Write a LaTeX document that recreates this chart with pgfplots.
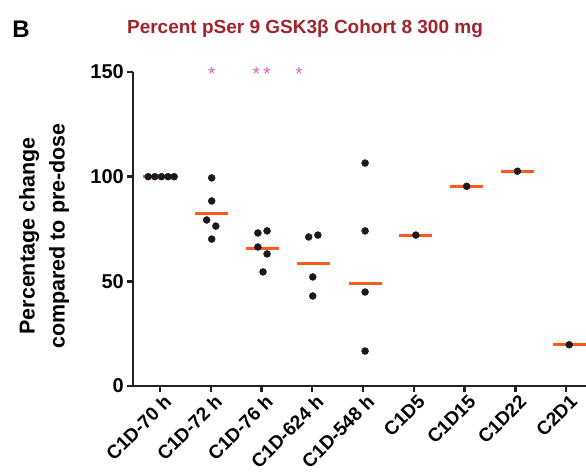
\documentclass[border=0pt]{standalone}
\usepackage{fontspec}
\setmainfont{Liberation Sans}
\usepackage{pgfplots}
\pgfplotsset{compat=1.18}
\usepackage{pgfplotstable}
\definecolor{medc}{HTML}{FF5A1E}
\definecolor{starc}{HTML}{E060B8}
\definecolor{titc}{HTML}{A3232B}
\definecolor{axc}{HTML}{222222}
\pgfplotstableread{
x y
-0.23 100
-0.10 100
0.03 100
0.16 100
0.28 100
1.02 99.4
1.02 88.4
0.92 79.3
1.10 76.4
1.02 70.2
1.93 73.1
2.11 74.1
1.93 66.4
2.11 63.1
2.03 54.5
2.93 71.2
3.11 72.1
3.01 52.1
3.01 43.0
4.04 106.5
4.04 74.1
4.04 44.9
4.04 16.7
5.04 72.1
6.04 95.4
7.04 102.6
8.06 19.7
}\dots
\pgfplotstableread{
x y
0.00 100
1.01 82.2
2.02 65.9
3.03 58.3
4.04 49.2
5.04 72.1
6.04 95.4
7.04 102.6
8.06 19.7
}\means
\begin{document}
\begin{tikzpicture}[x=1pt,y=1pt]
\path[use as bounding box] (0,0) rectangle (586,-474);
\node[font=\fontsize{24}{28}\selectfont\bfseries] at (21,-29) {B};
\node[font=\fontsize{19}{23}\selectfont\bfseries, text=titc] at (305,-29) {Percent pSer 9 GSK3β Cohort 8 300 mg};
\node[font=\fontsize{21.5}{30}\selectfont\bfseries, rotate=90, align=center] at (44,-236) {Percentage change\\compared to pre-dose};
\begin{axis}[
  at={(133pt,-386pt)}, anchor=south west,
  scale only axis, width=453pt, height=314pt,
  xmin=-0.53, xmax=8.39, ymin=0, ymax=150,
  axis x line=bottom, axis y line=left,
  axis line style={line width=2.4pt, color=axc, -},
  xtick={0,1,2,3,4,5,6,7,8},
  xticklabels={C1D-70 h, C1D-72 h, C1D-76 h, C1D-624 h, C1D-548 h, C1D5, C1D15, C1D22, C2D1},
  ytick={0,50,100,150},
  tick align=outside,
  major tick length=6pt,
  tick style={line width=2.4pt, color=axc},
  /pgf/number format/assume math mode=true,
  ticklabel style={font=\fontsize{20}{23}\selectfont\bfseries},
  xticklabel style={font=\fontsize{19}{22}\selectfont\bfseries, rotate=45, anchor=north east, inner sep=1pt, xshift=2pt, yshift=-2pt},
  yticklabel style={inner sep=2pt, xshift=-1pt},
  clip=false,
]
\addplot[only marks, mark=-, mark size=16.5pt, mark options={line width=3pt, color=medc}] table {\means};
\addplot[only marks, mark=*, mark size=3.5pt, color=black!90] table {\dots};
\node[font=\fontsize{19}{22}\selectfont, text=starc] at (axis cs:1.02,150) [yshift=-2pt] {*};
\node[font=\fontsize{19}{22}\selectfont, text=starc] at (axis cs:1.90,150) [yshift=-2pt] {*};
\node[font=\fontsize{19}{22}\selectfont, text=starc] at (axis cs:2.11,150) [yshift=-2pt] {*};
\node[font=\fontsize{19}{22}\selectfont, text=starc] at (axis cs:2.74,150) [yshift=-2pt] {*};
\end{axis}
\end{tikzpicture}
\end{document}
